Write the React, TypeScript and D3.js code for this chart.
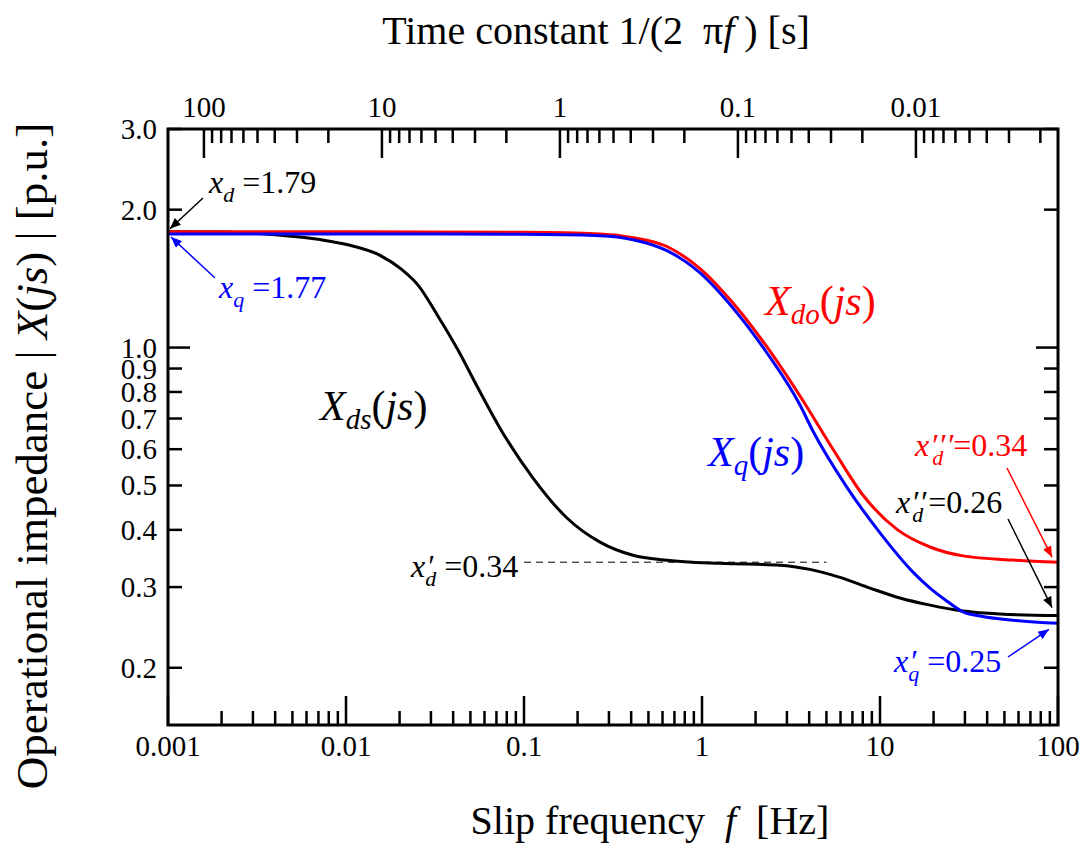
import React from 'react';
import * as d3 from 'd3';

// Xds(js) - black
const freqDs = [0.001, 0.002, 0.00415, 0.00714, 0.01053, 0.01552, 0.02037, 0.02539, 0.03288, 0.04258, 0.05515, 0.07328, 0.1124, 0.1744, 0.2673, 0.4097, 0.6353, 1.262, 2.74, 4.04, 5.96, 8.79, 12.95, 19.1, 29.25, 47.2, 100];
const valDs = [1.79, 1.787, 1.761, 1.721, 1.672, 1.59, 1.485, 1.369, 1.171, 0.988, 0.816, 0.667, 0.519, 0.4245, 0.376, 0.352, 0.3435, 0.338, 0.335, 0.328, 0.315, 0.2985, 0.284, 0.274, 0.266, 0.262, 0.26];

// Xdo(js) - red
const freqDo = [0.001, 0.01, 0.1, 0.2673, 0.4097, 0.6353, 0.975, 1.493, 2.318, 3.553, 5.445, 8.03, 12.46, 19.1, 29.25, 55.8, 100];
const valDo = [1.79, 1.79, 1.785, 1.77, 1.738, 1.662, 1.487, 1.251, 1.003, 0.784, 0.6, 0.476, 0.401, 0.367, 0.351, 0.3436, 0.34];

// Xq(js) - blue
const freqQ = [0.001, 0.01, 0.1, 0.2673, 0.4097, 0.6353, 0.975, 1.493, 2.318, 3.553, 4.17, 6.51, 10, 15.32, 19.1, 23.8, 29.25, 36.5, 55.8, 100];
const valQ = [1.77, 1.77, 1.768, 1.755, 1.72, 1.628, 1.456, 1.22, 0.973, 0.749, 0.661, 0.496, 0.394, 0.3235, 0.2985, 0.2795, 0.265, 0.2595, 0.254, 0.25];

const freqMajor = [0.001, 0.01, 0.1, 1, 10, 100];
const freqLabels = ['0.001', '0.01', '0.1', '1', '10', '100'];
const tauMajor = [100, 10, 1, 0.1, 0.01];
const tauLabels = ['100', '10', '1', '0.1', '0.01'];
const yTicks = [3.0, 2.0, 1.0, 0.9, 0.8, 0.7, 0.6, 0.5, 0.4, 0.3, 0.2];
const yLabels = ['3.0', '2.0', '1.0', '0.9', '0.8', '0.7', '0.6', '0.5', '0.4', '0.3', '0.2'];

const FONT = '"Liberation Serif", "DejaVu Serif", serif';

export default function App() {
  const width = 1088;
  const height = 843;
  const margin = { top: 129, right: 30, bottom: 118, left: 168 };
  const x0 = margin.left;
  const x1 = width - margin.right;
  const y0 = margin.top;
  const y1 = height - margin.bottom;

  const xScale = d3.scaleLog().domain([0.001, 100]).range([x0, x1]);
  const yScale = d3.scaleLog().domain([0.15, 3.0]).range([y1, y0]);
  const tauToX = (t: number) => xScale(1 / (2 * Math.PI * t));

  const line = d3
    .line<[number, number]>()
    .x((d) => xScale(d[0]))
    .y((d) => yScale(d[1]))
    .curve(d3.curveMonotoneX);

  const series = [
    { f: freqDs, v: valDs, color: '#000000' },
    { f: freqDo, v: valDo, color: '#ff0000' },
    { f: freqQ, v: valQ, color: '#0000ff' },
  ];

  // minor ticks of the frequency axis
  const freqMinor: number[] = [];
  for (let e = -3; e < 2; e++) {
    for (let m = 2; m <= 9; m++) freqMinor.push(m * Math.pow(10, e));
  }
  // minor ticks of the time constant axis
  const tauMinor: number[] = [];
  for (let e = 1; e >= -3; e--) {
    for (let m = 9; m >= 2; m--) tauMinor.push(m * Math.pow(10, e));
  }
  const tauMinorIn = tauMinor.filter((t) => tauToX(t) > x0 && tauToX(t) < x1);

  const majorLen = 29;
  const minorLen = 14;
  const yMajorLen = 22;

  const markers = [
    { id: 'ah-k', c: '#000000' },
    { id: 'ah-r', c: '#ff0000' },
    { id: 'ah-b', c: '#0000ff' },
  ];

  const sub = 22;
  const big = 32;
  const pre = { whiteSpace: 'pre' as const };

  return (
    <svg
      width={width}
      height={height}
      style={{ position: 'absolute', left: 0, top: 0, background: '#fff' }}
      fontFamily={FONT}
    >
      <defs>
        {markers.map((m) => (
          <marker
            key={m.id}
            id={m.id}
            viewBox="0 0 12 10"
            refX={12}
            refY={5}
            markerWidth={12}
            markerHeight={9}
            markerUnits="userSpaceOnUse"
            orient="auto"
          >
            <path d="M0,0 L12,5 L0,10 Z" fill={m.c} />
          </marker>
        ))}
      </defs>

      {/* curves */}
      {series.map((s, i) => (
        <path
          key={i}
          d={line(s.f.map((f, j) => [f, s.v[j]] as [number, number])) || ''}
          fill="none"
          stroke={s.color}
          strokeWidth={3}
        />
      ))}

      {/* dashed line x'd */}
      <line
        x1={xScale(0.1)}
        x2={xScale(5)}
        y1={yScale(0.34)}
        y2={yScale(0.34)}
        stroke="#000"
        strokeWidth={1}
        strokeDasharray="7,5"
      />

      {/* bottom axis ticks */}
      {freqMajor.map((f) => (
        <line key={'bM' + f} x1={xScale(f)} x2={xScale(f)} y1={y1} y2={y1 - majorLen} stroke="#000" strokeWidth={2.5} />
      ))}
      {freqMinor.map((f) => (
        <line key={'bm' + f} x1={xScale(f)} x2={xScale(f)} y1={y1} y2={y1 - minorLen} stroke="#000" strokeWidth={2.5} />
      ))}
      {freqMajor.map((f, i) => (
        <text key={'bl' + f} x={xScale(f)} y={756} textAnchor="middle" fontSize={29} fontFamily={FONT}>
          {freqLabels[i]}
        </text>
      ))}

      {/* top axis ticks */}
      {tauMajor.map((t) => (
        <line key={'tM' + t} x1={tauToX(t)} x2={tauToX(t)} y1={y0} y2={y0 + majorLen} stroke="#000" strokeWidth={2.5} />
      ))}
      {tauMinorIn.map((t) => (
        <line key={'tm' + t} x1={tauToX(t)} x2={tauToX(t)} y1={y0} y2={y0 + minorLen} stroke="#000" strokeWidth={2.5} />
      ))}
      {tauMajor.map((t, i) => (
        <text key={'tl' + t} x={tauToX(t)} y={117} textAnchor="middle" fontSize={29} fontFamily={FONT}>
          {tauLabels[i]}
        </text>
      ))}

      {/* y ticks left and right */}
      {yTicks.map((v, i) => {
        const len = v === 1 ? yMajorLen : minorLen;
        return (
          <g key={'y' + v}>
            <line x1={x0} x2={x0 + len} y1={yScale(v)} y2={yScale(v)} stroke="#000" strokeWidth={2.5} />
            <line x1={x1} x2={x1 - len} y1={yScale(v)} y2={yScale(v)} stroke="#000" strokeWidth={2.5} />
            <text x={157} y={yScale(v) + 10} textAnchor="end" fontSize={29} fontFamily={FONT}>
              {yLabels[i]}
            </text>
          </g>
        );
      })}

      {/* frame */}
      <rect x={x0} y={y0} width={x1 - x0} height={y1 - y0} fill="none" stroke="#000" strokeWidth={3} />

      {/* axis titles */}
      <text x={596} y={44} textAnchor="middle" fontSize={40} fontFamily={FONT} style={pre}>
        {'Time constant 1/(2  π'}
        <tspan fontStyle="italic">f</tspan>
        {' ) [s]'}
      </text>
      <text x={650} y={834} textAnchor="middle" fontSize={40} fontFamily={FONT} style={pre}>
        {'Slip frequency  '}
        <tspan fontStyle="italic">f</tspan>
        {'  [Hz]'}
      </text>
      <text
        transform="translate(47,456) rotate(-90)"
        textAnchor="middle"
        fontSize={45}
        fontFamily={FONT}
        style={pre}
      >
        {'Operational impedance | '}
        <tspan fontStyle="italic">X</tspan>
        {'('}
        <tspan fontStyle="italic">js</tspan>
        {') | [p.u.]'}
      </text>

      {/* curve names */}
      <text x={320} y={420} fontSize={42} fill="#000" fontFamily={FONT}>
        <tspan fontStyle="italic">X</tspan>
        <tspan fontStyle="italic" fontSize={29} dy={9}>ds</tspan>
        <tspan dy={-9}>(</tspan>
        <tspan fontStyle="italic">js</tspan>
        <tspan>)</tspan>
      </text>
      <text x={765} y={315} fontSize={42} fill="#ff0000" fontFamily={FONT}>
        <tspan fontStyle="italic">X</tspan>
        <tspan fontStyle="italic" fontSize={29} dy={9}>do</tspan>
        <tspan dy={-9}>(</tspan>
        <tspan fontStyle="italic">js</tspan>
        <tspan>)</tspan>
      </text>
      <text x={708} y={466} fontSize={42} fill="#0000ff" fontFamily={FONT}>
        <tspan fontStyle="italic">X</tspan>
        <tspan fontStyle="italic" fontSize={29} dy={9}>q</tspan>
        <tspan dy={-9}>(</tspan>
        <tspan fontStyle="italic">js</tspan>
        <tspan>)</tspan>
      </text>

      {/* annotations */}
      <text x={209} y={193} fontSize={big} fill="#000" fontFamily={FONT} style={pre}>
        <tspan fontStyle="italic">x</tspan>
        <tspan fontStyle="italic" fontSize={sub} dy={9}>d</tspan>
        <tspan dy={-9}>{' =1.79'}</tspan>
      </text>
      <line x1={203} y1={198} x2={xScale(0.001) + 2} y2={yScale(1.79) - 3} stroke="#000" strokeWidth={1.5} markerEnd="url(#ah-k)" />

      <text x={219} y={298} fontSize={big} fill="#0000ff" fontFamily={FONT} style={pre}>
        <tspan fontStyle="italic">x</tspan>
        <tspan fontStyle="italic" fontSize={sub} dy={9}>q</tspan>
        <tspan dy={-9}>{' =1.77'}</tspan>
      </text>
      <line x1={215} y1={278} x2={xScale(0.001) + 3} y2={yScale(1.77) + 3} stroke="#0000ff" strokeWidth={1.5} markerEnd="url(#ah-b)" />

      <text x={411} y={577} fontSize={big} fill="#000" fontFamily={FONT} style={pre}>
        <tspan fontStyle="italic">x</tspan>
        <tspan fontStyle="italic" dx={1}>′</tspan>
        <tspan fontStyle="italic" fontSize={sub} dx={-8} dy={9}>d</tspan>
        <tspan dy={-9}>{' =0.34'}</tspan>
      </text>

      <text x={915} y={456} fontSize={big} fill="#ff0000" fontFamily={FONT} style={pre}>
        <tspan fontStyle="italic">x</tspan>
        <tspan fontStyle="italic" dx={1}>′</tspan>
        <tspan fontStyle="italic" dx={1}>′</tspan>
        <tspan fontStyle="italic" dx={1}>′</tspan>
        <tspan fontStyle="italic" fontSize={sub} dx={-21} dy={9}>d</tspan>
        <tspan dx={10} dy={-9}>{'=0.34'}</tspan>
      </text>
      <line x1={1007} y1={468} x2={x1 - 6} y2={yScale(0.34) - 5} stroke="#ff0000" strokeWidth={1.5} markerEnd="url(#ah-r)" />

      <text x={896} y={513} fontSize={big} fill="#000" fontFamily={FONT} style={pre}>
        <tspan fontStyle="italic">x</tspan>
        <tspan fontStyle="italic" dx={1}>′</tspan>
        <tspan fontStyle="italic" dx={1}>′</tspan>
        <tspan fontStyle="italic" fontSize={sub} dx={-14} dy={9}>d</tspan>
        <tspan dx={5} dy={-9}>{'=0.26'}</tspan>
      </text>
      <line x1={1008} y1={519} x2={x1 - 6} y2={yScale(0.26) - 8} stroke="#000" strokeWidth={1.5} markerEnd="url(#ah-k)" />

      <text x={894} y={672} fontSize={big} fill="#0000ff" fontFamily={FONT} style={pre}>
        <tspan fontStyle="italic">x</tspan>
        <tspan fontStyle="italic" dx={1}>′</tspan>
        <tspan fontStyle="italic" fontSize={sub} dx={-8} dy={9}>q</tspan>
        <tspan dy={-9}>{' =0.25'}</tspan>
      </text>
      <line x1={1008} y1={657} x2={x1 - 9} y2={yScale(0.25) + 6} stroke="#0000ff" strokeWidth={1.5} markerEnd="url(#ah-b)" />
    </svg>
  );
}
